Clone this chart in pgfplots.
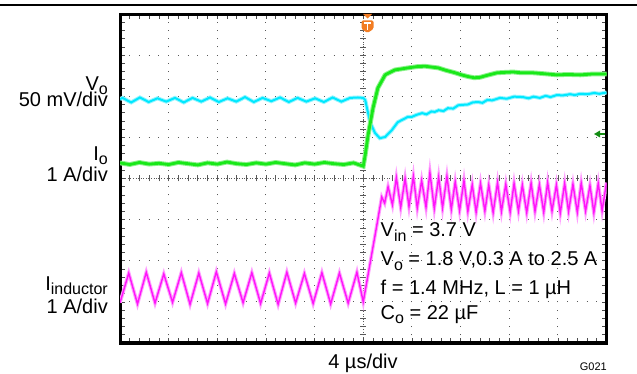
\documentclass[border=0pt]{standalone}
\usepackage{pgfplots}
\usepackage{pgfplotstable}
\pgfplotsset{compat=1.18}
\usepackage{fontspec}
\setmainfont{Liberation Sans}
\definecolor{cyc}{RGB}{0,232,255}
\definecolor{cych}{RGB}{150,245,255}
\definecolor{grc}{RGB}{25,232,25}
\definecolor{grh}{RGB}{140,242,140}
\definecolor{mgc}{RGB}{255,20,250}
\definecolor{mgh}{RGB}{255,160,255}
\definecolor{trig}{RGB}{242,125,35}
\definecolor{gnd}{RGB}{20,140,20}
\newcommand\sub[1]{\raisebox{-4.5bp}{\fontsize{16bp}{16bp}\selectfont #1}}

\pgfplotstableread{
x y
0.00 0.98
0.18 1.70
0.36 0.95
0.54 1.72
0.72 0.97
0.90 1.68
1.08 0.99
1.26 1.71
1.44 0.94
1.62 1.70
1.80 0.96
1.98 1.73
2.17 0.95
2.35 1.69
2.53 0.98
2.71 1.71
2.89 0.96
3.07 1.70
3.25 0.94
3.43 1.72
3.61 0.97
3.79 1.69
3.97 0.96
4.15 1.71
4.33 0.95
4.51 1.70
4.69 0.97
4.87 1.72
5.00 1.00
5.28 2.87
5.38 3.55
5.44 3.40
5.51 3.80
5.60 3.36
5.68 4.02
5.77 3.30
5.86 4.00
5.94 3.32
6.03 4.05
6.11 3.28
6.20 3.95
6.29 3.30
6.37 4.14
6.46 3.27
6.55 4.03
6.63 3.29
6.72 4.05
6.81 3.25
6.89 3.92
6.98 3.22
7.07 3.95
7.15 3.20
7.24 3.85
7.32 3.18
7.41 3.88
7.50 3.21
7.58 3.84
7.67 3.17
7.76 3.90
7.84 3.20
7.93 3.86
8.02 3.18
8.10 3.88
8.19 3.21
8.27 3.84
8.36 3.17
8.45 3.89
8.53 3.20
8.62 3.85
8.71 3.18
8.79 3.90
8.88 3.21
8.97 3.84
9.05 3.16
9.14 3.88
9.22 3.20
9.31 3.86
9.40 3.18
9.48 3.89
9.57 3.21
9.66 3.83
9.74 3.17
9.83 3.88
9.91 3.22
10.00 3.90
}\magdata

\pgfplotstableread{
x y
0.00 5.93
0.05 5.96
0.23 5.85
0.41 5.97
0.59 5.86
0.77 5.95
0.95 5.87
1.13 5.96
1.31 5.85
1.49 5.96
1.67 5.87
1.85 5.97
2.03 5.86
2.21 5.95
2.39 5.87
2.57 5.98
2.75 5.86
2.93 5.96
3.11 5.88
3.29 5.97
3.47 5.86
3.65 5.96
3.83 5.87
4.01 5.95
4.19 5.86
4.37 5.97
4.55 5.87
4.73 5.96
4.89 5.97
5.00 5.96
5.04 5.91
5.14 5.37
5.24 5.11
5.34 4.98
5.45 5.01
5.59 5.18
5.71 5.37
5.92 5.50
6.00 5.50
6.10 5.55
6.21 5.59
6.30 5.56
6.40 5.63
6.47 5.62
6.55 5.66
6.65 5.64
6.74 5.71
6.85 5.70
6.95 5.78
7.03 5.79
7.15 5.80
7.25 5.85
7.36 5.86
7.45 5.84
7.55 5.91
7.65 5.90
7.81 5.96
7.95 5.94
8.10 5.99
8.28 5.98
8.40 5.95
8.50 5.99
8.63 5.96
8.75 6.01
8.85 5.98
8.98 6.03
9.10 6.02
9.25 6.05
9.35 6.03
9.46 6.06
9.60 6.05
9.75 6.08
9.85 6.06
10.00 6.09
}\cyandata

\pgfplotstableread{
x y
0.00 4.38
0.20 4.34
0.40 4.39
0.60 4.35
0.80 4.37
1.00 4.34
1.20 4.39
1.40 4.36
1.60 4.33
1.80 4.38
2.00 4.35
2.20 4.40
2.40 4.36
2.60 4.34
2.80 4.38
3.00 4.35
3.20 4.39
3.40 4.36
3.60 4.33
3.80 4.38
4.00 4.35
4.20 4.39
4.40 4.36
4.60 4.34
4.80 4.38
5.00 4.30
5.04 4.57
5.10 5.06
5.20 5.71
5.30 6.20
5.45 6.52
5.65 6.64
5.92 6.69
6.10 6.72
6.27 6.73
6.40 6.71
6.54 6.69
6.70 6.63
6.89 6.57
7.02 6.52
7.15 6.48
7.28 6.45
7.40 6.46
7.55 6.51
7.75 6.57
7.90 6.58
8.08 6.59
8.25 6.57
8.49 6.57
8.70 6.55
8.98 6.52
9.20 6.53
9.46 6.52
9.70 6.54
10.00 6.54
}\greendata

\begin{document}
\begin{tikzpicture}[font=\fontsize{20bp}{24bp}\selectfont]
\useasboundingbox (0bp,0bp) rectangle (637bp,374bp);
\begin{scope}[x=1bp,y=1bp]
\draw[line width=1.5] (0,369) -- (637,369);
% centre lines with fine ticks
\draw[black!65, line width=0.8, dash pattern=on 1 off 1.6] (120,195.5) -- (606.5,195.5);
\draw[black!65, line width=0.8, dash pattern=on 1 off 1.6] (363.25,31) -- (363.25,360);
\foreach \k in {1,...,49} \draw[black!65, line width=0.7] (120+\k*9.73,192.5) -- (120+\k*9.73,198.5);
\foreach \k in {1,...,39} \draw[black!65, line width=0.7] (360.25,31+\k*8.225) -- (366.25,31+\k*8.225);
\end{scope}
\begin{axis}[at={(120bp,31bp)}, anchor=south west, scale only axis,
  width=486.5bp, height=329bp,
  xmin=0, xmax=10, ymin=0, ymax=8,
  xtick={0,...,10}, ytick={0,...,8},
  xticklabels={}, yticklabels={},
  minor tick num=4, tick align=inside,
  xtick pos=both, ytick pos=both,
  major tick length=5bp, minor tick length=5bp,
  tick style={black!70, line width=0.7bp},
  grid=major,
  x grid style={black!65, line width=1bp, dash pattern=on 1bp off 7.225bp, dash phase=0.5bp},
  y grid style={black!65, line width=1bp, dash pattern=on 1bp off 8.73bp, dash phase=0.5bp},
  axis line style={line width=3bp},
  no markers]
\addplot[mgh, line width=3.5bp] table {\magdata};
\addplot[mgc, line width=1.4bp] table {\magdata};
\addplot[cych, line width=4bp] table {\cyandata};
\addplot[cyc, line width=2bp] table {\cyandata};
\addplot[grh, line width=4.8bp] table {\greendata};
\addplot[grc, line width=2.8bp] table {\greendata};
\end{axis}
\begin{scope}[x=1bp,y=1bp]
% trigger marker
\fill[trig] (363,360) -- (372,360) -- (367.5,355.5) -- cycle;
\fill[trig, rounded corners=1.5] (361.5,353.5) -- (373.5,353.5) -- (373.5,345) -- (367.5,341) -- (361.5,345) -- cycle;
\draw[white, line width=1.6] (364.3,350.8) -- (370.7,350.8) (367.5,350.8) -- (367.5,344);
% ground marker
\fill[gnd] (594,240) -- (600,243.5) -- (600,236.5) -- cycle;
\draw[gnd, line width=1.2] (600,240) -- (605,240);
% left labels
\node[anchor=base east, inner sep=0] at (108,284) {V\sub{o}};
\node[anchor=base east, inner sep=0] at (108,267.3) {50 mV/div};
\node[anchor=base east, inner sep=0] at (108,214) {I\sub{o}};
\node[anchor=base east, inner sep=0] at (108,192.3) {1 A/div};
\node[anchor=base east, inner sep=0] at (108,84) {I\sub{inductor}};
\node[anchor=base east, inner sep=0] at (108,61) {1 A/div};
% conditions
\node[anchor=base west, inner sep=0] at (380.5,137.3) {V\sub{in} = 3.7 V};
\node[anchor=base west, inner sep=0] at (380.5,108.3) {V\sub{o} = 1.8 V,0.3 A to 2.5 A};
\node[anchor=base west, inner sep=0] at (380.5,79.7) {f = 1.4 MHz, L = 1 µH};
\node[anchor=base west, inner sep=0] at (380.5,55) {C\sub{o} = 22 µF};
% bottom
\node[anchor=base, inner sep=0] at (363,6) {4 µs/div};
\node[anchor=base east, inner sep=0, font=\fontsize{11bp}{13bp}\selectfont] at (607,4) {G021};
\end{scope}
\end{tikzpicture}
\end{document}
